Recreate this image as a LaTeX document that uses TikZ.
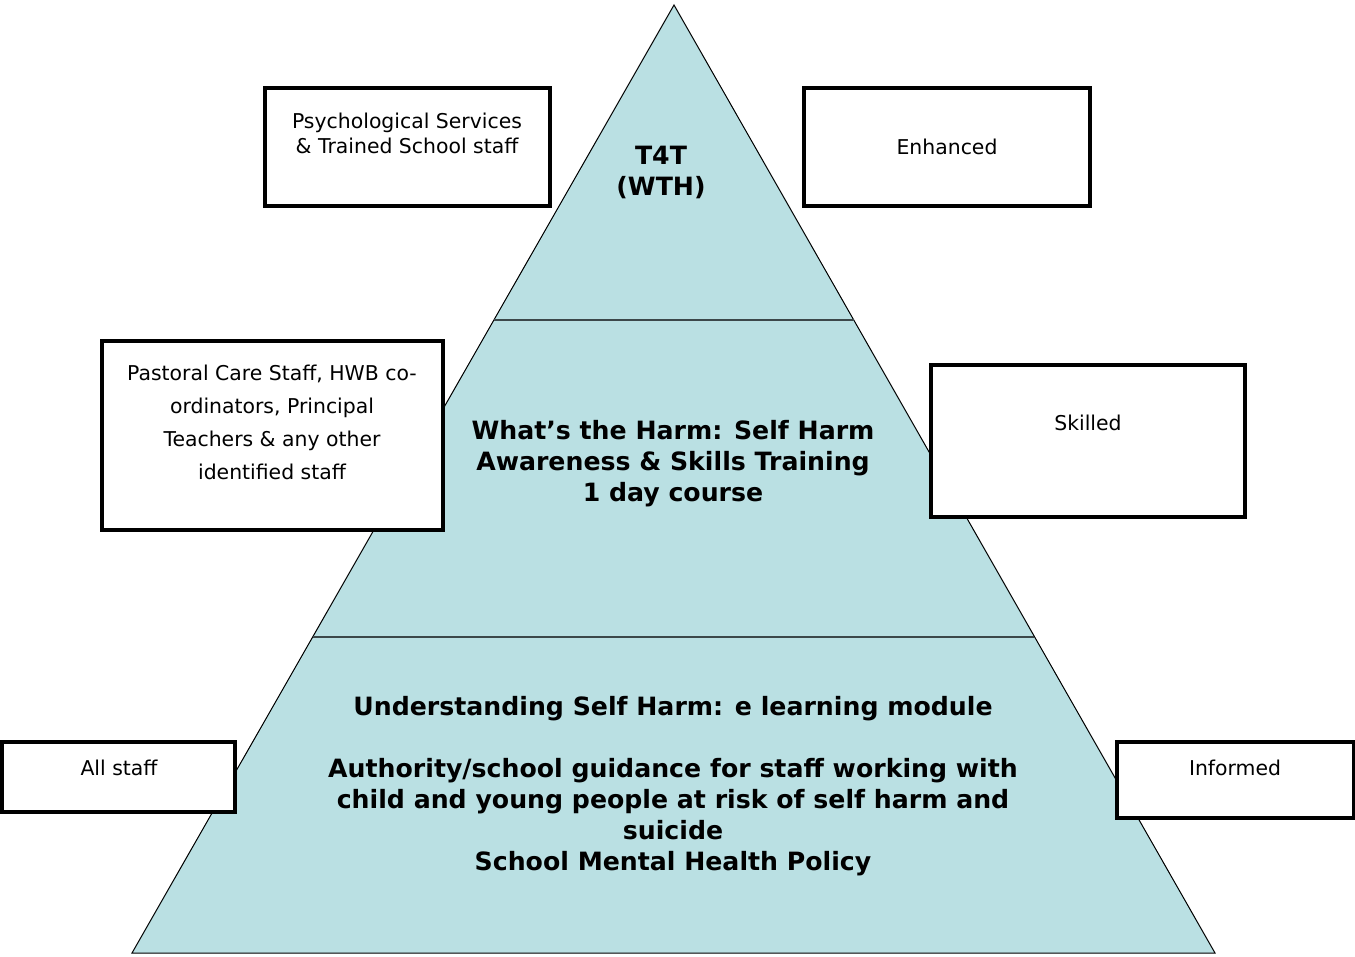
\documentclass[tikz,border=0pt]{standalone}
\usepackage{fontspec}
\setmainfont{DejaVu Sans}
\definecolor{pyrfill}{RGB}{186,224,227}
\definecolor{divline}{RGB}{60,72,74}
\begin{document}
\begin{tikzpicture}[x=1pt,y=-1pt,
  box/.style={draw=black,line width=3.2pt,fill=white,inner sep=0pt},
  reg/.style={inner sep=0pt,align=center,font=\fontsize{20.4}{25}\selectfont},
  regwide/.style={inner sep=0pt,align=center,font=\fontsize{20.4}{33}\selectfont},
  bld/.style={inner sep=0pt,align=center,font=\fontsize{25.2}{31}\selectfont\bfseries}]
\useasboundingbox (0,0) rectangle (1355,956);
% pyramid
\coordinate (apex) at (674,5);
\coordinate (br) at (1215,953);
\coordinate (bl) at (132,953);
\fill[pyrfill] (apex) -- (br) -- (bl) -- cycle;
\draw[line width=1pt,line join=miter] (apex) -- (br) -- (bl) -- cycle;
\coordinate (d1l) at (494,320);
\coordinate (d1r) at (854,320);
\coordinate (d2l) at (313,637);
\coordinate (d2r) at (1034,637);
\draw[divline,line width=2pt] (d1l) -- (d1r);
\draw[divline,line width=2pt] (d2l) -- (d2r);
% boxes
\node[box,minimum width=285,minimum height=118] (psych) at (407.5,147) {};
\node[box,minimum width=286,minimum height=118] (enh) at (947,147) {};
\node[box,minimum width=341,minimum height=189] (past) at (272.5,435.5) {};
\node[box,minimum width=314,minimum height=152] (skill) at (1088,441) {};
\node[box,minimum width=233,minimum height=70] (all) at (118.5,777) {};
\node[box,minimum width=237,minimum height=76] (inf) at (1235.5,780) {};
% box texts
\node[reg] (psycht) at (407,133) {Psychological Services\\\& Trained School staff};
\node[reg] (enht) at (947,146.5) {Enhanced};
\node[regwide] (pastt) at (272,422) {Pastoral Care Staff, HWB co-\\ordinators, Principal\\Teachers \& any other\\identified staff};
\node[reg] (skillt) at (1088,423) {Skilled};
\node[reg] (allt) at (119,768) {All staff};
\node[reg] (inft) at (1235,768) {Informed};
% pyramid texts
\node[bld] (top) at (661,172) {T4T\\(WTH)};
\node[bld] (mid) at (673,464) {What’s the Harm: Self Harm\\Awareness \& Skills Training\\1 day course};
\node[bld] (bot) at (673,786) {Understanding Self Harm: e learning module\\\mbox{}\\Authority/school guidance for staff working with\\child and young people at risk of self harm and\\suicide\\School Mental Health Policy};
\end{tikzpicture}
\end{document}
